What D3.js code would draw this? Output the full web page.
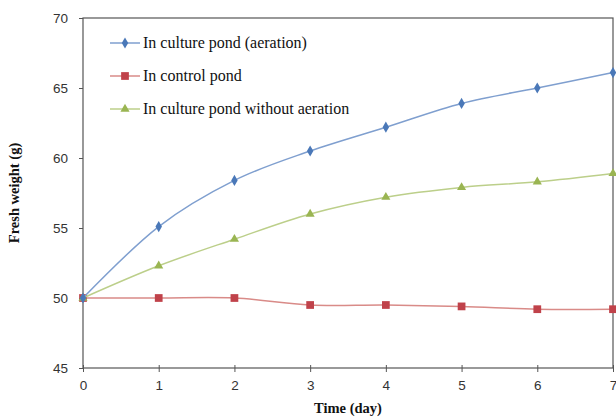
<!DOCTYPE html>
<html>
<head>
<meta charset="utf-8">
<script src="https://cdn.jsdelivr.net/npm/d3@7"></script>
<style>
  body { margin: 0; background: #fff; }
  svg { display: block; }
  .serif { font-family: "Liberation Serif", "Times New Roman", Times, serif; }
  .sans { font-family: "Liberation Sans", Arial, sans-serif; }
</style>
</head>
<body>
<svg id="chart" width="616" height="418"></svg>
<script>
const days = [0, 1, 2, 3, 4, 5, 6, 7];
const aeration = [50, 55.1, 58.4, 60.5, 62.2, 63.9, 65.0, 66.1];
const control = [50, 50.0, 50.0, 49.5, 49.5, 49.4, 49.2, 49.2];
const noAeration = [50, 52.3, 54.2, 56.0, 57.2, 57.9, 58.3, 58.9];
const yTicks = [45, 50, 55, 60, 65, 70];
const seriesNames = ["In culture pond (aeration)", "In control pond", "In culture pond without aeration"];

const svg = d3.select("#chart");
const m = { left: 83, right: 3, top: 18, bottom: 50 };
const W = 616, H = 418;

const x = d3.scaleLinear().domain([0, 7]).range([m.left, W - m.right]);
const y = d3.scaleLinear().domain([45, 70]).range([H - m.bottom, m.top]);

// frame
svg.append("rect")
  .attr("x", x(0)).attr("y", y(70))
  .attr("width", x(7) - x(0)).attr("height", y(45) - y(70))
  .attr("fill", "none").attr("stroke", "#555").attr("stroke-width", 1.2);

// y axis
const yAxis = svg.append("g")
  .attr("transform", `translate(${x(0)},0)`)
  .call(d3.axisLeft(y).tickValues(yTicks).tickSize(4).tickPadding(11));
yAxis.select(".domain").remove();
yAxis.selectAll("line").attr("stroke", "#555");
yAxis.attr("font-family", null).attr("font-size", null);
yAxis.selectAll("text").attr("class", "sans")
  .style("font-size", "13.5px").attr("fill", "#333");

// x axis
const xAxis = svg.append("g")
  .attr("transform", `translate(0,${y(45)})`)
  .call(d3.axisBottom(x).tickValues(days).tickFormat(d3.format("d")).tickSizeInner(4).tickSizeOuter(0).tickPadding(8));
xAxis.select(".domain").remove();
xAxis.attr("font-family", null).attr("font-size", null);
xAxis.selectAll(".tick line").attr("y1", -3).attr("stroke", "#555");
xAxis.selectAll("text").attr("class", "sans")
  .style("font-size", "13.5px").attr("fill", "#333");

// axis titles
svg.append("text")
  .attr("class", "serif")
  .attr("x", (x(0) + x(7)) / 2).attr("y", 413)
  .attr("text-anchor", "middle")
  .style("font-weight", "bold").style("font-size", "14.5px").attr("fill", "#111")
  .text("Time (day)");

svg.append("text")
  .attr("class", "serif")
  .attr("transform", `translate(19,${(y(45) + y(70)) / 2}) rotate(-90)`)
  .attr("text-anchor", "middle")
  .style("font-weight", "bold").style("font-size", "14.5px").attr("fill", "#111")
  .text("Fresh weight (g)");

const series = [
  { name: seriesNames[0], values: aeration, line: "#7f9fcf", fill: "#4a78b8", shape: d3.symbolDiamond, size: 36 },
  { name: seriesNames[1], values: control, line: "#d98b88", fill: "#c0424a", shape: d3.symbolSquare, size: 60 },
  { name: seriesNames[2], values: noAeration, line: "#bccf8a", fill: "#9ab552", shape: d3.symbolTriangle, size: 36 }
];

const line = d3.line()
  .x((d, i) => x(days[i]))
  .y(d => y(d))
  .curve(d3.curveCatmullRom.alpha(0));

[1, 2, 0].forEach(k => {
  const s = series[k];
  svg.append("path")
    .attr("d", line(s.values))
    .attr("fill", "none")
    .attr("stroke", s.line)
    .attr("stroke-width", 1.5);
  svg.append("g").selectAll("path")
    .data(s.values)
    .join("path")
    .attr("transform", (d, i) => `translate(${x(days[i])},${y(d)})`)
    .attr("d", d3.symbol().type(s.shape).size(s.size))
    .attr("fill", s.fill);
});

// legend
const legend = svg.append("g");
series.forEach((s, i) => {
  const ly = 43 + i * 33;
  const g = legend.append("g").attr("transform", `translate(0,${ly})`);
  g.append("line").attr("x1", 110).attr("x2", 140).attr("y1", 0).attr("y2", 0)
    .attr("stroke", s.line).attr("stroke-width", 1.5);
  g.append("path").attr("transform", "translate(125,0)")
    .attr("d", d3.symbol().type(s.shape).size(s.size)).attr("fill", s.fill);
  g.append("text").attr("class", "serif").attr("x", 143).attr("y", 5)
    .style("font-size", "16px").attr("fill", "#111")
    .text(s.name);
});
</script>
</body>
</html>
